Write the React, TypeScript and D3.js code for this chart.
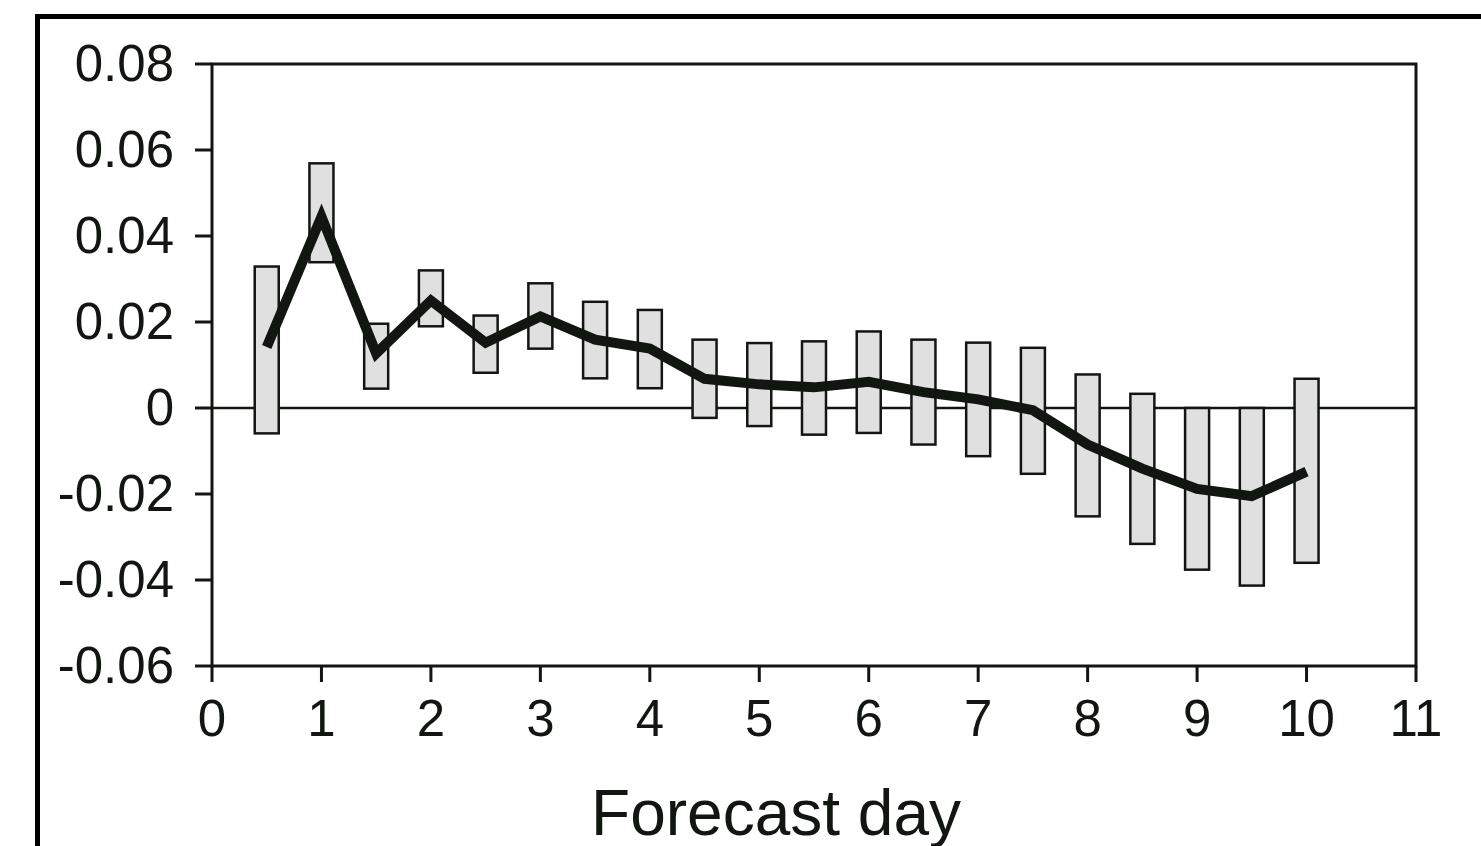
import React from "react";
import * as d3 from "d3";

const days = [0.5, 1, 1.5, 2, 2.5, 3, 3.5, 4, 4.5, 5, 5.5, 6, 6.5, 7, 7.5, 8, 8.5, 9, 9.5, 10];
const meanValues = [0.0142, 0.0445, 0.0127, 0.025, 0.0152, 0.0213, 0.0159, 0.0138, 0.0068, 0.0055, 0.0048, 0.0061, 0.0037, 0.002, -0.0005, -0.0085, -0.0141, -0.0188, -0.0205, -0.0148];
const barTops = [0.0329, 0.0569, 0.0196, 0.032, 0.0215, 0.029, 0.0247, 0.0228, 0.0159, 0.0151, 0.0155, 0.0178, 0.0159, 0.0152, 0.014, 0.0078, 0.0033, 0.0, 0.0, 0.0068];
const barBottoms = [-0.0059, 0.0339, 0.0045, 0.019, 0.0082, 0.0138, 0.0069, 0.0046, -0.0023, -0.0042, -0.0062, -0.0058, -0.0085, -0.0112, -0.0153, -0.0252, -0.0316, -0.0376, -0.0413, -0.036];
const xTicks = [0, 1, 2, 3, 4, 5, 6, 7, 8, 9, 10, 11];
const yTicks = [0.08, 0.06, 0.04, 0.02, 0, -0.02, -0.04, -0.06];
const yTickLabels = ["0.08", "0.06", "0.04", "0.02", "0", "-0.02", "-0.04", "-0.06"];
const xTitle = "Forecast day";

const INK = "#111611";
const FONT = "'Liberation Sans', Arial, Helvetica, sans-serif";

export default function App() {
  const x = d3.scaleLinear().domain([0, 11]).range([212, 1416]);
  const y = d3.scaleLinear().domain([-0.06, 0.08]).range([666, 64]);
  const barW = 24;

  const line = d3
    .line<number>()
    .x((_, i) => x(days[i]))
    .y((d) => y(d));

  return (
    <svg
      width={1481}
      height={846}
      style={{ position: "absolute", left: 0, top: 0, background: "#fff" }}
    >
      <rect x={0} y={0} width={1481} height={846} fill="#fff" />
      {/* outer frame */}
      <rect x={37.5} y={16.5} width={1600} height={1000} fill="none" stroke="#000" strokeWidth={5} />

      {/* zero line */}
      <line x1={x(0)} x2={x(11)} y1={y(0)} y2={y(0)} stroke={INK} strokeWidth={2.5} />

      {/* bars */}
      {days.map((d, i) => (
        <rect
          key={i}
          x={x(d) - barW / 2}
          y={y(barTops[i])}
          width={barW}
          height={y(barBottoms[i]) - y(barTops[i])}
          fill="#e0e0e0"
          stroke={INK}
          strokeWidth={2.5}
        />
      ))}

      {/* mean line */}
      <path
        d={line(meanValues) || ""}
        fill="none"
        stroke={INK}
        strokeWidth={10}
        strokeLinejoin="miter"
        strokeLinecap="butt"
      />

      {/* plot box */}
      <rect x={x(0)} y={y(0.08)} width={x(11) - x(0)} height={y(-0.06) - y(0.08)} fill="none" stroke={INK} strokeWidth={3} />

      {/* y ticks */}
      {yTicks.map((t, i) => (
        <g key={i}>
          <line x1={x(0) - 17} x2={x(0)} y1={y(t)} y2={y(t)} stroke={INK} strokeWidth={3} />
          <text
            x={174}
            y={y(t) + 17}
            textAnchor="end"
            fontFamily={FONT}
            fontSize={51}
            fill={INK}
          >
            {yTickLabels[i]}
          </text>
        </g>
      ))}

      {/* x ticks */}
      {xTicks.map((t) => (
        <g key={t}>
          <line x1={x(t)} x2={x(t)} y1={y(-0.06)} y2={y(-0.06) + 16} stroke={INK} strokeWidth={3} />
          <text
            x={x(t)}
            y={736}
            textAnchor="middle"
            fontFamily={FONT}
            fontSize={51}
            fill={INK}
          >
            {t}
          </text>
        </g>
      ))}

      <text x={776} y={835} textAnchor="middle" fontFamily={FONT} fontSize={64} fill={INK}>
        {xTitle}
      </text>
    </svg>
  );
}
